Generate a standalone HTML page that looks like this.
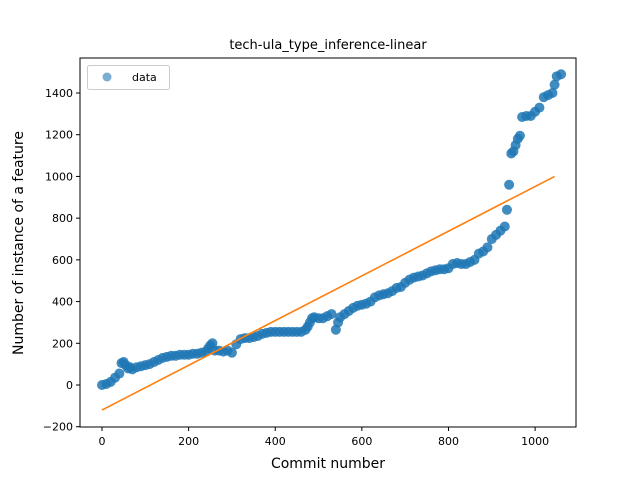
<!DOCTYPE html>
<html><head><meta charset="utf-8"><style>
body{margin:0;background:#fff}
svg text{font-family:"DejaVu Sans","Liberation Sans",sans-serif}
</style></head><body>
<svg id="chart" width="640" height="480" xmlns="http://www.w3.org/2000/svg">
<rect width="640" height="480" fill="#fff"/>
<g id="plot"></g>
</svg>
<script>
const commits=[0,10,20,30,40,45,50,55,60,65,70,80,90,100,110,120,130,140,150,160,170,180,190,200,210,220,230,240,245,250,255,260,270,280,290,300,310,320,330,340,350,360,370,380,390,400,410,420,430,440,450,460,470,475,480,485,490,500,510,520,530,540,545,550,560,570,580,590,600,610,620,630,640,650,660,670,680,690,700,710,720,730,740,750,760,770,780,790,800,810,820,830,840,850,860,870,880,890,900,910,920,930,935,940,945,950,955,960,965,970,980,990,1000,1010,1020,1030,1040,1045,1050,1060];
const counts=[0,5,15,35,55,105,110,95,80,85,75,85,90,95,100,110,120,130,135,140,140,145,145,145,150,150,155,160,175,190,200,165,165,160,165,155,195,220,225,225,230,235,245,250,255,255,255,255,255,255,255,255,265,280,300,320,325,320,320,330,340,265,300,325,340,355,370,380,385,390,400,420,430,435,440,450,465,470,490,505,515,520,525,535,545,550,555,555,560,580,585,580,580,590,600,630,640,660,700,720,740,760,840,960,1110,1120,1150,1180,1195,1285,1290,1290,1310,1330,1380,1390,1400,1440,1480,1490];
const fitX=[0,1045];
const fitY=[-120,1000];
const xTicks=[0,200,400,600,800,1000];
const yTicks=[-200,0,200,400,600,800,1000,1200,1400];

const L=80,R=576,T=58,B=427;
const sx=v=>102+v*0.4331;
const sy=v=>385-v*0.20857;
const NS="http://www.w3.org/2000/svg";
const g=document.getElementById('plot');
function mk(tag,attrs,txt){const e=document.createElementNS(NS,tag);for(const k in attrs)e.setAttribute(k,attrs[k]);if(txt!==undefined)e.textContent=txt;g.appendChild(e);return e;}

for(let i=0;i<commits.length;i++){
  const c=mk('circle',{cx:sx(commits[i]),cy:sy(counts[i]),r:5,fill:'#1f77b4','fill-opacity':0.85});
  
  
}
const ln=mk('line',{x1:sx(fitX[0]),y1:sy(fitY[0]),x2:sx(fitX[1]),y2:sy(fitY[1]),stroke:'#ff7f0e','stroke-width':1.6});



const fr=mk('rect',{x:L,y:T,width:R-L,height:B-T,fill:'none',stroke:'#000','stroke-width':1});



xTicks.forEach(v=>{
  const x=sx(v);
  const t=mk('line',{x1:x,y1:B,x2:x,y2:B+4,stroke:'#000'});
  
  
  const l=mk('text',{x:x,y:B+18,'font-size':11,'text-anchor':'middle'},String(v));
  
  
});
yTicks.forEach(v=>{
  const y=sy(v);
  const t=mk('line',{x1:L-4,y1:y,x2:L,y2:y,stroke:'#000'});
  
  
  const l=mk('text',{x:L-7,y:y+4,'font-size':11,'text-anchor':'end'},String(v).replace('-','\u2212'));
  
  
});
const ti=mk('text',{x:328,y:49,'font-size':13,'text-anchor':'middle'},'tech-ula_type_inference-linear');


const xl=mk('text',{x:328,y:468,'font-size':14,'text-anchor':'middle'},'Commit number');


const yl=mk('text',{x:23,y:243,'font-size':14,'text-anchor':'middle',transform:'rotate(-90 23 243)'},'Number of instance of a feature');



const lb=mk('rect',{x:87.5,y:65.5,width:82,height:24,rx:2,fill:'#fff','fill-opacity':0.8,stroke:'#ccc'});


const lm=mk('circle',{cx:107,cy:77,r:4.5,fill:'#1f77b4','fill-opacity':0.6});


const lt=mk('text',{x:132,y:81,'font-size':11},'data');


</script>
</body></html>
